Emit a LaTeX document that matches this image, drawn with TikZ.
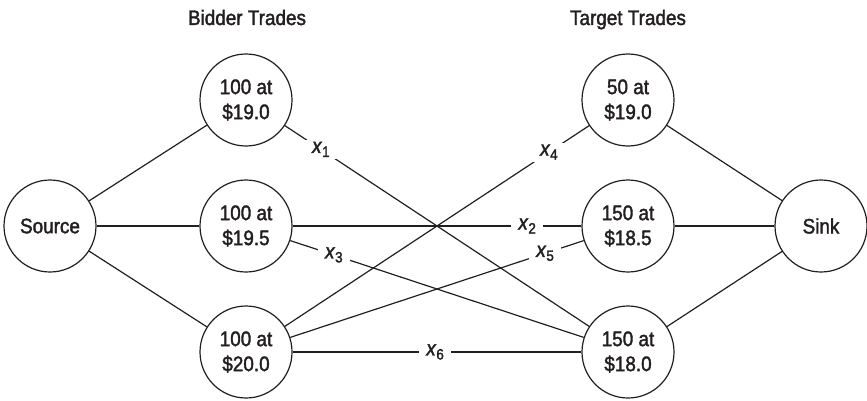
\documentclass[tikz,border=0pt]{standalone}
\usepackage{fontspec}
\setmainfont{Liberation Sans}[FakeStretch=0.9, FakeBold=1.8]
\usetikzlibrary{calc}
\definecolor{ink}{HTML}{231F20}
\newcommand{\fs}{\fontsize{21}{25}\selectfont}
\newcommand{\xv}[1]{\textit{x}\raisebox{-4pt}{\fontsize{15}{15}\selectfont #1}}
\tikzset{
  trade/.style={circle, draw=ink, text=ink, line width=1.2pt, minimum size=92pt, inner sep=0pt, align=center, font=\fs},
  elab/.style={fill=white, text=ink, inner xsep=7pt, inner ysep=2pt, font=\fs},
  conn/.style={draw=ink, line width=1.2pt},
  title/.style={text=ink, font=\fs, anchor=base}
}
\begin{document}
\begin{tikzpicture}
\useasboundingbox (0,0) rectangle (867pt,400pt);
\node[title] (bt) at (247pt,375pt) {Bidder Trades};
\node[title] (tt) at (628pt,375pt) {Target Trades};
\node[trade] (src) at (50pt,174pt) {Source};
\node[trade] (b1) at (246pt,300pt) {100 at\\\$19.0};
\node[trade] (b2) at (246pt,174pt) {100 at\\\$19.5};
\node[trade] (b3) at (246pt,48pt) {100 at\\\$20.0};
\node[trade] (t1) at (628pt,300pt) {50 at\\\$19.0};
\node[trade] (t2) at (628pt,174pt) {150 at\\\$18.5};
\node[trade] (t3) at (628pt,48pt) {150 at\\\$18.0};
\node[trade] (snk) at (821pt,174pt) {Sink};
\draw[conn] (src) -- (b1);
\draw[conn] (src) -- (b2);
\draw[conn] (src) -- (b3);
\draw[conn] (snk) -- (t1);
\draw[conn] (snk) -- (t2);
\draw[conn] (snk) -- (t3);
\draw[conn] (b1) -- (t3);
\draw[conn] (b2) -- (t2);
\draw[conn] (b2) -- (t3);
\draw[conn] (b3) -- (t1);
\draw[conn] (b3) -- (t2);
\draw[conn] (b3) -- (t3);
\node[elab] (l1) at ($(b1)!0.196!(t3)$) {\xv{1}};
\node[elab] (l2) at ($(b2)!0.736!(t2)$) {\xv{2}};
\node[elab] (l3) at ($(b2)!0.23!(t3)$) {\xv{3}};
\node[elab] (l4) at ($(b3)!0.793!(t1)$) {\xv{4}};
\node[elab] (l5) at ($(b3)!0.783!(t2)$) {\xv{5}};
\node[elab] (l6) at ($(b3)!0.495!(t3)$) {\xv{6}};
\end{tikzpicture}
\end{document}
